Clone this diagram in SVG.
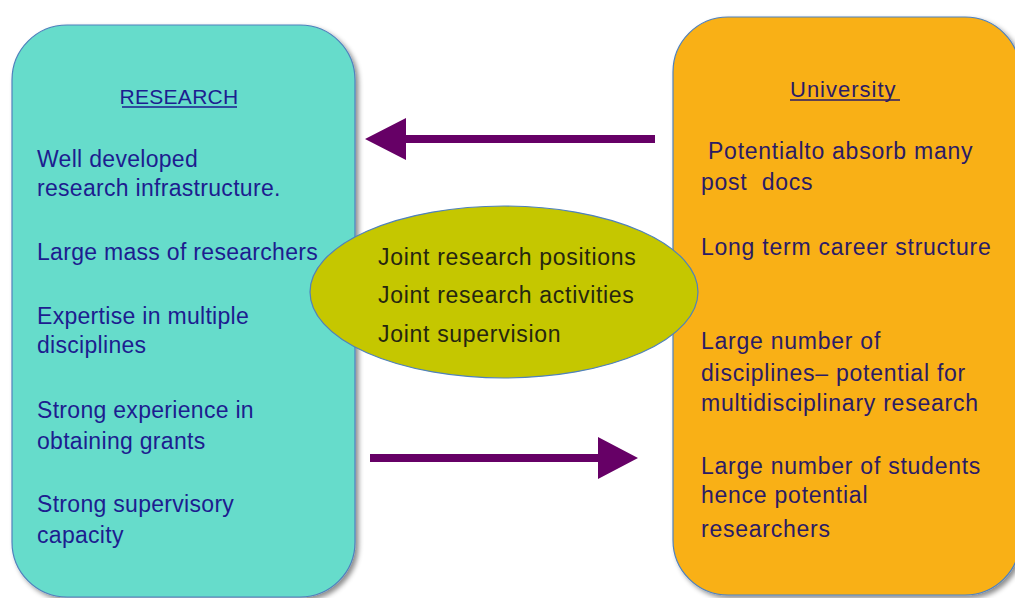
<svg xmlns="http://www.w3.org/2000/svg" width="1015" height="598" viewBox="0 0 1015 598">
<defs>
<filter id="sh" x="-10%" y="-10%" width="125%" height="125%">
<feDropShadow dx="3" dy="3" stdDeviation="2.5" flood-color="#000" flood-opacity="0.45"/>
</filter>
<style>
text{font-family:"Liberation Sans",Arial,sans-serif;font-size:23px;letter-spacing:0.3px}
.l{fill:#1d1d8f}
.r{fill:#2b1b66;letter-spacing:0.75px}
.e{fill:#262610;letter-spacing:0.7px}
.h{font-size:21px}
.u{font-size:22px;letter-spacing:1px}
.conn{fill:#660066}
</style>
</defs>
<rect width="1015" height="598" fill="#fff"/>
<g id="connectors">
<path class="conn" d="M655,135 L406,135 L406,118 L365,139 L406,160 L406,143 L655,143 Z"/>
<path class="conn" d="M370,454 L598,454 L598,437 L638,458 L598,479 L598,462 L370,462 Z"/>
</g>
<g id="research">
<rect x="12" y="25" width="343" height="572" rx="55" fill="#66dccb" stroke="#4f81bd" stroke-width="1.2" filter="url(#sh)"/>
<text class="l h" x="179" y="104" text-anchor="middle">RESEARCH</text>
<line x1="122" y1="107" x2="237" y2="107" stroke="#1d1d8f" stroke-width="1.5"/>
<text class="l" x="37" y="167">Well developed</text>
<text class="l" x="37" y="196">research infrastructure.</text>
<text class="l" x="37" y="260">Large mass of researchers</text>
<text class="l" x="37" y="324">Expertise in multiple</text>
<text class="l" x="37" y="353">disciplines</text>
<text class="l" x="37" y="418">Strong experience in</text>
<text class="l" x="37" y="449">obtaining grants</text>
<text class="l" x="37" y="512">Strong supervisory</text>
<text class="l" x="37" y="543">capacity</text>
</g>
<g id="university">
<rect x="673" y="17" width="347" height="578" rx="55" fill="#f9b016" stroke="#4f81bd" stroke-width="1.2" filter="url(#sh)"/>
<text class="r u" x="790" y="97">University</text>
<line x1="790" y1="100" x2="900" y2="100" stroke="#2b1b66" stroke-width="1.5"/>
<text class="r" x="708" y="159">Potentialto absorb many</text>
<text class="r" x="701" y="190" xml:space="preserve">post  docs</text>
<text class="r" x="701" y="255">Long term career structure</text>
<text class="r" x="701" y="349">Large number of</text>
<text class="r" x="701" y="381">disciplines– potential for</text>
<text class="r" x="701" y="411">multidisciplinary research</text>
<text class="r" x="701" y="474">Large number of students</text>
<text class="r" x="701" y="503">hence potential</text>
<text class="r" x="701" y="537">researchers</text>
</g>
<g id="joint">
<ellipse cx="504" cy="292" rx="194" ry="86" fill="#c5c700" stroke="#4f81bd" stroke-width="1.2"/>
<text class="e" x="378" y="265">Joint research positions</text>
<text class="e" x="378" y="303">Joint research activities</text>
<text class="e" x="378" y="342">Joint supervision</text>
</g>
</svg>
